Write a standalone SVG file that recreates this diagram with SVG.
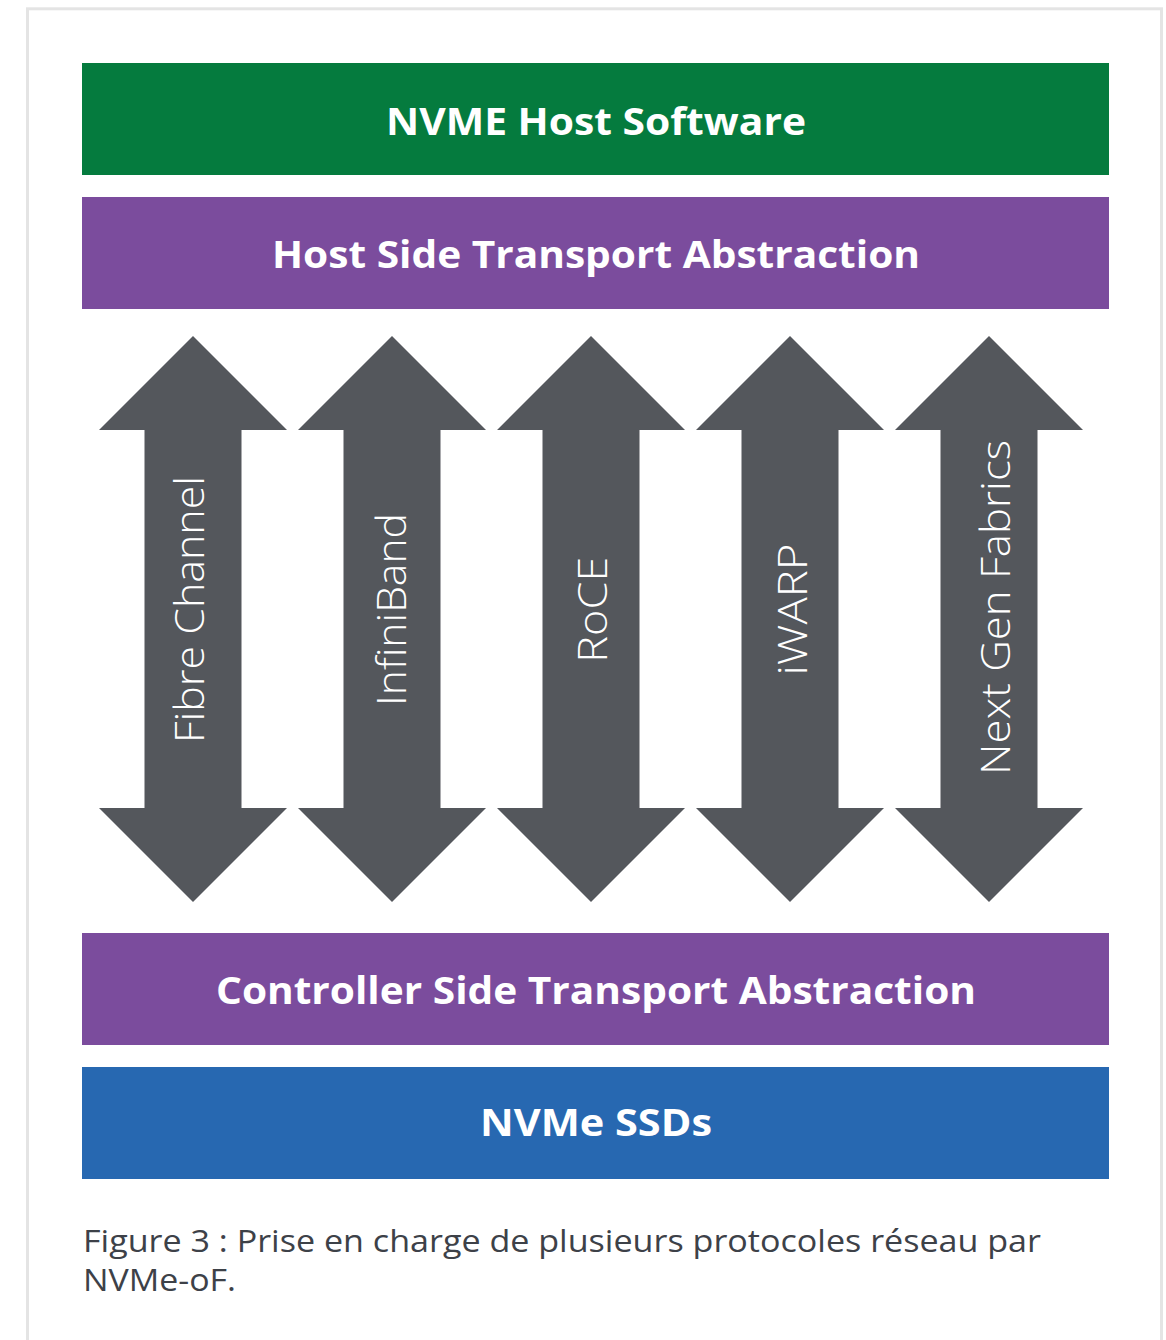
<svg xmlns="http://www.w3.org/2000/svg" width="1166" height="1340" viewBox="0 0 1166 1340">
  <style>
    .title { font-family: "Open Sans", "Liberation Sans", sans-serif; font-weight: 700; font-size: 38px; fill: #ffffff; text-anchor: middle; }
    .proto { font-family: "Open Sans", "Liberation Sans", sans-serif; font-weight: 300; font-size: 41px; fill: #ffffff; text-anchor: middle; }
    .caption { font-family: "Open Sans", "Liberation Sans", sans-serif; font-weight: 400; font-size: 31px; fill: #3d4148; }
    .arrow { fill: #54575c; }
  </style>
  <defs>
    <path id="dbl" d="M0,0 L94,94 L48.5,94 L48.5,472 L94,472 L0,566 L-94,472 L-48.5,472 L-48.5,94 L-94,94 Z"/>
  </defs>
  <rect x="0" y="0" width="1166" height="1340" fill="#ffffff"/>
  <rect x="27.5" y="8.8" width="1134" height="1400" fill="#ffffff" stroke="#e4e4e4" stroke-width="3"/>

  <g id="host-software">
    <rect x="82" y="63" width="1027" height="112" fill="#057b3e"/>
    <text class="title" x="596" y="135" textLength="420" lengthAdjust="spacingAndGlyphs">NVME Host Software</text>
  </g>
  <g id="host-transport">
    <rect x="82" y="197" width="1027" height="112" fill="#7b4c9d"/>
    <text class="title" x="596" y="268" textLength="648" lengthAdjust="spacingAndGlyphs">Host Side Transport Abstraction</text>
  </g>

  <g id="connectors">
    <g id="fibre-channel">
      <use href="#dbl" x="193" y="336" class="arrow"/>
      <text class="proto" transform="translate(204.3,609.5) rotate(-90)" textLength="267" lengthAdjust="spacingAndGlyphs">Fibre Channel</text>
    </g>
    <g id="infiniband">
      <use href="#dbl" x="392" y="336" class="arrow"/>
      <text class="proto" transform="translate(405.7,609.5) rotate(-90)" textLength="193" lengthAdjust="spacingAndGlyphs">InfiniBand</text>
    </g>
    <g id="roce">
      <use href="#dbl" x="591" y="336" class="arrow"/>
      <text class="proto" transform="translate(606.7,609.7) rotate(-90)" textLength="106" lengthAdjust="spacingAndGlyphs">RoCE</text>
    </g>
    <g id="iwarp">
      <use href="#dbl" x="790" y="336" class="arrow"/>
      <text class="proto" transform="translate(806.7,609.5) rotate(-90)" textLength="132" lengthAdjust="spacingAndGlyphs">iWARP</text>
    </g>
    <g id="next-gen">
      <use href="#dbl" x="989" y="336" class="arrow"/>
      <text class="proto" transform="translate(1010,607.5) rotate(-90)" textLength="335" lengthAdjust="spacingAndGlyphs">Next Gen Fabrics</text>
    </g>
  </g>

  <g id="controller-transport">
    <rect x="82" y="933" width="1027" height="112" fill="#7b4c9d"/>
    <text class="title" x="596" y="1004" textLength="760" lengthAdjust="spacingAndGlyphs">Controller Side Transport Abstraction</text>
  </g>
  <g id="nvme-ssds">
    <rect x="82" y="1067" width="1027" height="112" fill="#2768b1"/>
    <text class="title" x="596" y="1136" textLength="232" lengthAdjust="spacingAndGlyphs">NVMe SSDs</text>
  </g>

  <g id="caption">
    <text class="caption" x="83" y="1251.7" textLength="958" lengthAdjust="spacingAndGlyphs">Figure 3 : Prise en charge de plusieurs protocoles réseau par</text>
    <text class="caption" x="83" y="1290.7" textLength="153" lengthAdjust="spacingAndGlyphs">NVMe-oF.</text>
  </g>
</svg>
